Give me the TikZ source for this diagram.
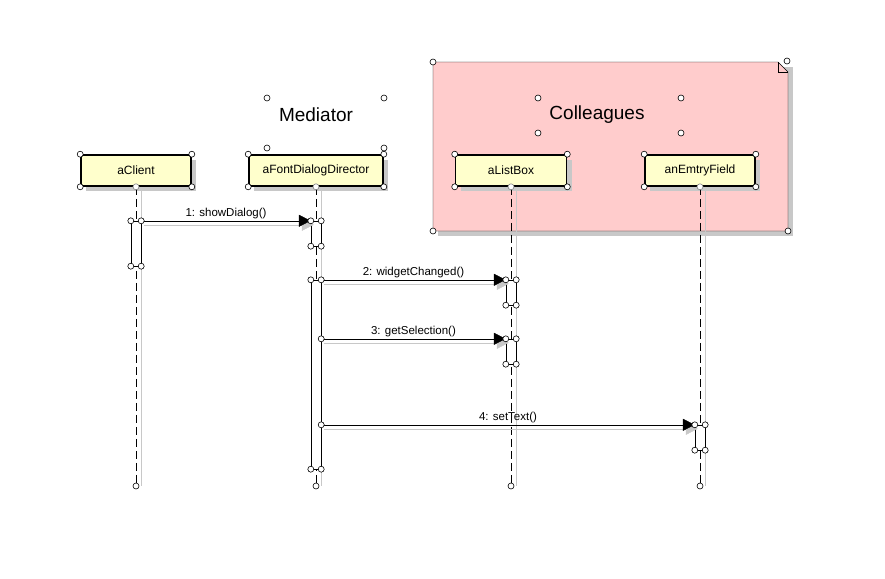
\documentclass[tikz,border=0pt]{standalone}
\usepackage{fontspec}
\setmainfont{Liberation Sans}
\usetikzlibrary{arrows.meta, positioning, shadows}
\definecolor{lifebox}{RGB}{255, 255, 204}
\definecolor{framepink}{RGB}{255, 204, 204}
\definecolor{shadowgray}{RGB}{200, 200, 200}

\begin{document}
\begin{tikzpicture}[x=1pt, y=-1pt,
    obj/.style={draw, line width=1.6pt, fill=lifebox, minimum height=31pt, font=\fontsize{12}{14}\selectfont,
        general shadow={fill=shadowgray, shadow xshift=5pt, shadow yshift=-5pt}},
    act/.style={draw, fill=white, minimum width=10pt, inner sep=0pt},
    msg/.style={-{Triangle[length=12pt, width=12pt]}},
    msgshadow/.style={shadowgray, -{Triangle[length=12pt, width=12pt]}},
    lifeline/.style={dash pattern=on 8pt off 4pt},
    handle/.style={draw, fill=white, line width=0.6pt},
    lbl/.style={font=\fontsize{11.5}{13}\selectfont, inner sep=2pt},
    title/.style={font=\fontsize{19}{22}\selectfont}]
        \useasboundingbox (0,0) rectangle (885,578);

        % Colleagues frame
        \fill[shadowgray] (438,67) -- (793,67) -- (793,236) -- (438,236) -- cycle;
        \draw[fill=framepink] (433,62) -- (778,62) -- (788,72) -- (788,231) -- (433,231) -- cycle;
        \draw (778,62) -- (778,72) -- (788,72);

        % Titles
        \node[title] (mediator) at (316,115) {Mediator};
        \node[title] (colleagues) at (597,115) {Colleagues};

        % Objects
        \node[obj, minimum width=110pt] (client) at (136,170.5) {aClient};
        \node[obj, minimum width=134pt] (director) at (316,170.5) {aFontDialogDirector};
        \node[obj, minimum width=111pt] (listbox) at (511,170.5) {aListBox};
        \node[obj, minimum width=110pt] (emtryfield) at (700,170.5) {anEmtryField};

        % Lifelines
        \coordinate (clientend) at (136,486);
        \coordinate (directorend) at (316,486);
        \coordinate (listboxend) at (511,486);
        \coordinate (emtryend) at (700,486);
        \draw[shadowgray] ([xshift=5pt]client.south) -- ([xshift=5pt]clientend);
        \draw[shadowgray] ([xshift=5pt]director.south) -- ([xshift=5pt]directorend);
        \draw[shadowgray] ([xshift=5pt]listbox.south) -- ([xshift=5pt]listboxend);
        \draw[shadowgray] ([xshift=5pt]emtryfield.south) -- ([xshift=5pt]emtryend);
        \draw[lifeline] (client) -- (clientend);
        \draw[lifeline] (director) -- (directorend);
        \draw[lifeline] (listbox) -- (listboxend);
        \draw[lifeline] (emtryfield) -- (emtryend);

        % Activations
        \node[act, minimum height=45pt] (clientact) at (136,243.5) {};
        \node[act, minimum height=25pt] (dirfirst) at (316,233.5) {};
        \node[act, minimum height=189pt] (dirsecond) at (316,374.5) {};
        \node[act, minimum height=25pt] (lbfirst) at (511,292.5) {};
        \node[act, minimum height=25pt] (lbsecond) at (511,351.5) {};
        \node[act, minimum height=25pt] (efact) at (700,437.5) {};

        % Messages
        \coordinate (getstart) at (dirsecond.east |- lbsecond.north);
        \coordinate (setstart) at (dirsecond.east |- efact.north);
        \draw[msgshadow] ([shift={(3,4)}]clientact.north east) -- ([shift={(3,4)}]dirfirst.north west);
        \draw[msgshadow] ([shift={(3,4)}]dirsecond.north east) -- ([shift={(3,4)}]lbfirst.north west);
        \draw[msgshadow] ([shift={(3,4)}]getstart) -- ([shift={(3,4)}]lbsecond.north west);
        \draw[msgshadow] ([shift={(3,4)}]setstart) -- ([shift={(3,4)}]efact.north west);
        \draw[msg] (clientact.north east) -- (dirfirst.north west) node[lbl, midway, above] {1: showDialog()};
        \draw[msg] (dirsecond.north east) -- (lbfirst.north west) node[lbl, midway, above] {2: widgetChanged()};
        \draw[msg] (getstart) -- (lbsecond.north west) node[lbl, midway, above] {3: getSelection()};
        \draw[msg] (setstart) -- (efact.north west) node[lbl, midway, above] {4: setText()};

        % Handles
        \foreach \n in {client, director, listbox, emtryfield}
            \draw[handle, draw=gray] (\n.south) circle (3pt);
        \foreach \n in {client, director, listbox, emtryfield, clientact, dirfirst, dirsecond, lbfirst, lbsecond, efact}
            \foreach \a in {north west, north east, south west, south east}
                \draw[handle] (\n.\a) circle (3pt);
        \foreach \c in {clientend, directorend, listboxend, emtryend, getstart, setstart}
            \draw[handle] (\c) circle (3pt);
        \foreach \p in {(267,98), (384,98), (267,148), (384,148), (538,98), (681,98), (538,133), (681,133),
                        (433,62), (787,61), (788,231), (433,231)}
            \draw[handle] \p circle (3pt);
    \end{tikzpicture}
\end{document}
